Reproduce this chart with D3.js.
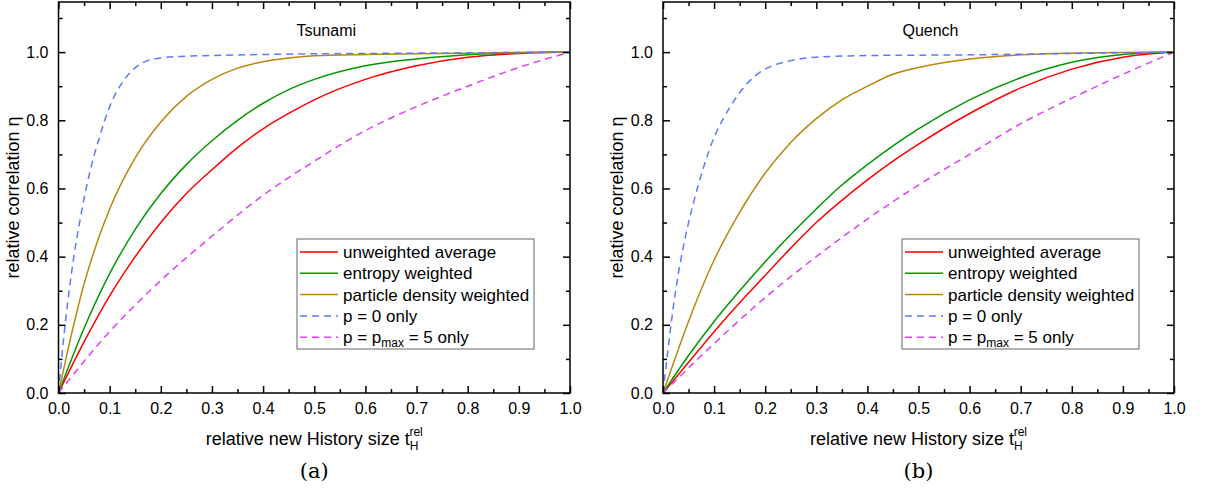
<!DOCTYPE html>
<html>
<head>
<meta charset="utf-8">
<script src="https://cdn.jsdelivr.net/npm/d3@7"></script>
<style>
  body { margin: 0; background: #fff; }
  svg text { font-family: "Liberation Sans", Arial, sans-serif; fill: #000; }
</style>
</head>
<body>
<svg id="chart" width="1206" height="495"></svg>
<script>
// series names / legend labels
var seriesNames = ["unweighted average", "entropy weighted", "particle density weighted", "p = 0 only", "p = pmax = 5 only"];
var seriesColors = ["#ff0000", "#009900", "#b8860b", "#5b7bff", "#e040fb"];
var seriesDashed = [false, false, false, true, true];

var xTicks = [0, 0.1, 0.2, 0.3, 0.4, 0.5, 0.6, 0.7, 0.8, 0.9, 1.0];
var yTicks = [0, 0.2, 0.4, 0.6, 0.8, 1.0];

// ---- Tsunami (a)
var tsuRedX = [0, 0.05, 0.1, 0.15, 0.2, 0.25, 0.3, 0.35, 0.4, 0.45, 0.5, 0.6, 0.7, 0.8, 0.9, 1.0];
var tsuRedY = [0, 0.15, 0.285, 0.4, 0.5, 0.585, 0.655, 0.72, 0.775, 0.82, 0.86, 0.92, 0.96, 0.985, 0.996, 1.0];
var tsuGreenX = [0, 0.05, 0.1, 0.15, 0.2, 0.25, 0.3, 0.35, 0.4, 0.45, 0.5, 0.6, 0.7, 0.8, 0.9, 1.0];
var tsuGreenY = [0, 0.19, 0.35, 0.48, 0.585, 0.67, 0.74, 0.8, 0.85, 0.89, 0.92, 0.96, 0.98, 0.992, 0.998, 1.0];
var tsuGoldX = [0, 0.025, 0.05, 0.075, 0.1, 0.15, 0.2, 0.25, 0.3, 0.35, 0.4, 0.45, 0.5, 0.6, 0.7, 0.8, 0.9, 1.0];
var tsuGoldY = [0, 0.17, 0.32, 0.44, 0.54, 0.69, 0.795, 0.87, 0.92, 0.953, 0.972, 0.983, 0.989, 0.993, 0.995, 0.997, 0.999, 1.0];
var tsuBlueX = [0, 0.01, 0.02, 0.03, 0.04, 0.05, 0.06, 0.08, 0.1, 0.12, 0.14, 0.16, 0.2, 0.25, 0.3, 0.4, 0.5, 0.6, 0.7, 0.8, 0.9, 1.0];
var tsuBlueY = [0, 0.16, 0.29, 0.4, 0.49, 0.57, 0.64, 0.75, 0.84, 0.9, 0.94, 0.965, 0.983, 0.988, 0.99, 0.993, 0.995, 0.996, 0.997, 0.998, 0.999, 1.0];
var tsuMagX = [0, 0.1, 0.2, 0.3, 0.4, 0.5, 0.6, 0.7, 0.8, 0.9, 1.0];
var tsuMagY = [0, 0.18, 0.33, 0.46, 0.58, 0.68, 0.77, 0.84, 0.9, 0.955, 1.0];

// ---- Quench (b)
var qRedX = [0, 0.05, 0.1, 0.15, 0.2, 0.25, 0.3, 0.35, 0.4, 0.45, 0.5, 0.6, 0.7, 0.8, 0.9, 1.0];
var qRedY = [0, 0.09, 0.18, 0.265, 0.345, 0.425, 0.5, 0.565, 0.625, 0.68, 0.73, 0.82, 0.895, 0.95, 0.985, 1.0];
var qGreenX = [0, 0.05, 0.1, 0.15, 0.2, 0.25, 0.3, 0.35, 0.4, 0.45, 0.5, 0.6, 0.7, 0.8, 0.9, 1.0];
var qGreenY = [0, 0.11, 0.21, 0.3, 0.385, 0.465, 0.54, 0.61, 0.67, 0.725, 0.775, 0.86, 0.925, 0.97, 0.993, 1.0];
var qGoldX = [0, 0.05, 0.1, 0.15, 0.2, 0.25, 0.3, 0.35, 0.4, 0.45, 0.5, 0.6, 0.7, 0.8, 0.9, 1.0];
var qGoldY = [0, 0.21, 0.39, 0.53, 0.645, 0.735, 0.805, 0.86, 0.9, 0.935, 0.955, 0.98, 0.992, 0.997, 0.999, 1.0];
var qBlueX = [0, 0.01, 0.02, 0.03, 0.04, 0.05, 0.06, 0.08, 0.1, 0.12, 0.14, 0.16, 0.18, 0.2, 0.25, 0.3, 0.4, 0.5, 0.6, 0.7, 0.8, 0.9, 1.0];
var qBlueY = [0, 0.13, 0.25, 0.35, 0.43, 0.5, 0.56, 0.665, 0.75, 0.81, 0.86, 0.9, 0.93, 0.95, 0.975, 0.985, 0.99, 0.991, 0.992, 0.994, 0.996, 0.998, 1.0];
var qMagX = [0, 0.1, 0.2, 0.3, 0.4, 0.5, 0.6, 0.7, 0.8, 0.9, 1.0];
var qMagY = [0, 0.145, 0.28, 0.4, 0.51, 0.61, 0.7, 0.79, 0.865, 0.935, 1.0];

var zip = function(xs, ys) { return xs.map(function(x, i) { return [x, ys[i]]; }); };

var panels = [
    { left: 58.5, right: 570, title: "Tsunami", caption: "(a)",
      series: [zip(tsuRedX, tsuRedY), zip(tsuGreenX, tsuGreenY), zip(tsuGoldX, tsuGoldY), zip(tsuBlueX, tsuBlueY), zip(tsuMagX, tsuMagY)],
      legendX: 297 },
    { left: 663, right: 1174, title: "Quench", caption: "(b)",
      series: [zip(qRedX, qRedY), zip(qGreenX, qGreenY), zip(qGoldX, qGoldY), zip(qBlueX, qBlueY), zip(qMagX, qMagY)],
      legendX: 902 }
];

var svg = d3.select("#chart");
var plotTop = 2, plotBottom = 393;

var drawPanel = function(p) {
    var x = d3.scaleLinear().domain([0, 1]).range([p.left, p.right]);
    var y = d3.scaleLinear().domain([0, 1.147]).range([plotBottom, plotTop]);
    var g = svg.append("g");

    // curves
    var line = d3.line().x(function(d) { return x(d[0]); }).y(function(d) { return y(d[1]); })
        .curve(d3.curveMonotoneX);
    p.series.forEach(function(s, i) {
        g.append("path")
            .attr("d", line(s))
            .attr("fill", "none")
            .attr("stroke", seriesColors[i])
            .attr("stroke-width", 1.5)
            .attr("stroke-dasharray", seriesDashed[i] ? "7,5" : null);
    });

    // axes (ticks inside, mirrored)
    var minorX = d3.range(0.05, 1, 0.1);
    var minorY = d3.range(0.1, 1.15, 0.2);
    var xb = d3.axisBottom(x).tickValues(xTicks).tickFormat(d3.format(".1f")).tickSizeInner(-7).tickSizeOuter(0).tickPadding(10);
    var xt = d3.axisTop(x).tickValues(xTicks).tickFormat("").tickSizeInner(-7).tickSizeOuter(0);
    var yl = d3.axisLeft(y).tickValues(yTicks).tickFormat(d3.format(".1f")).tickSizeInner(-7).tickSizeOuter(0).tickPadding(10);
    var yr = d3.axisRight(y).tickValues(yTicks).tickFormat("").tickSizeInner(-7).tickSizeOuter(0);
    var axes = [
        g.append("g").attr("transform", "translate(0," + plotBottom + ")").call(xb),
        g.append("g").attr("transform", "translate(0," + plotTop + ")").call(xt),
        g.append("g").attr("transform", "translate(" + p.left + ",0)").call(yl),
        g.append("g").attr("transform", "translate(" + p.right + ",0)").call(yr),
        g.append("g").attr("transform", "translate(0," + plotBottom + ")")
            .call(d3.axisBottom(x).tickValues(minorX).tickFormat("").tickSizeInner(-4).tickSizeOuter(0)),
        g.append("g").attr("transform", "translate(0," + plotTop + ")")
            .call(d3.axisTop(x).tickValues(minorX).tickFormat("").tickSizeInner(-4).tickSizeOuter(0)),
        g.append("g").attr("transform", "translate(" + p.left + ",0)")
            .call(d3.axisLeft(y).tickValues(minorY).tickFormat("").tickSizeInner(-4).tickSizeOuter(0)),
        g.append("g").attr("transform", "translate(" + p.right + ",0)")
            .call(d3.axisRight(y).tickValues(minorY).tickFormat("").tickSizeInner(-4).tickSizeOuter(0))
    ];
    axes.forEach(function(a) {
        a.select(".domain").remove();
        a.selectAll("line").attr("stroke", "#000").attr("stroke-width", 1.5);
        a.selectAll("text").style("font-size", "16px").style("font-family", "'Liberation Sans', Arial, sans-serif");
    });

    g.append("rect")
        .attr("x", p.left).attr("y", plotTop)
        .attr("width", p.right - p.left).attr("height", plotBottom - plotTop)
        .attr("fill", "none").attr("stroke", "#000").attr("stroke-width", 1.5);

    var cx = (p.left + p.right) / 2;

    // title
    g.append("text").attr("x", cx + 12).attr("y", 36)
        .attr("text-anchor", "middle").style("font-size", "16px").text(p.title);

    // x axis title
    var xt2 = g.append("text").attr("x", cx).attr("y", 445)
        .attr("text-anchor", "middle").style("font-size", "18px");
    xt2.append("tspan").text("relative new History size t");
    xt2.append("tspan").attr("dy", 5).style("font-size", "12px").text("H");
    xt2.append("tspan").attr("dx", -9).attr("dy", -14).style("font-size", "12px").text("rel");

    // y axis title
    g.append("text")
        .attr("transform", "translate(" + (p.left - 40) + "," + ((plotTop + plotBottom) / 2) + ") rotate(-90)")
        .attr("text-anchor", "middle").style("font-size", "18px")
        .text("relative correlation \u03b7");

    // caption
    g.append("text").attr("x", cx).attr("y", 478)
        .attr("text-anchor", "middle")
        .style("font-family", "'DejaVu Serif', 'Liberation Serif', serif")
        .style("font-size", "21px").text(p.caption);

    // legend
    var lg = g.append("g").attr("transform", "translate(" + p.legendX + ",239)");
    lg.append("rect").attr("width", 237).attr("height", 110)
        .attr("fill", "#fff").attr("stroke", "#666").attr("stroke-width", 1);
    seriesNames.forEach(function(name, i) {
        var ry = 13 + i * 21.3;
        lg.append("line").attr("x1", 3).attr("x2", 41).attr("y1", ry).attr("y2", ry)
            .attr("stroke", seriesColors[i]).attr("stroke-width", 1.5)
            .attr("stroke-dasharray", seriesDashed[i] ? "7,5" : null);
        var t = lg.append("text").attr("x", 46).attr("y", ry + 6).style("font-size", "17px");
        if (i == 4) {
            t.append("tspan").text("p = p");
            t.append("tspan").attr("dy", 4).style("font-size", "12px").text("max");
            t.append("tspan").attr("dy", -4).text(" = 5 only");
        } else {
            t.text(name);
        }
    });
};

panels.forEach(drawPanel);
</script>
</body>
</html>
